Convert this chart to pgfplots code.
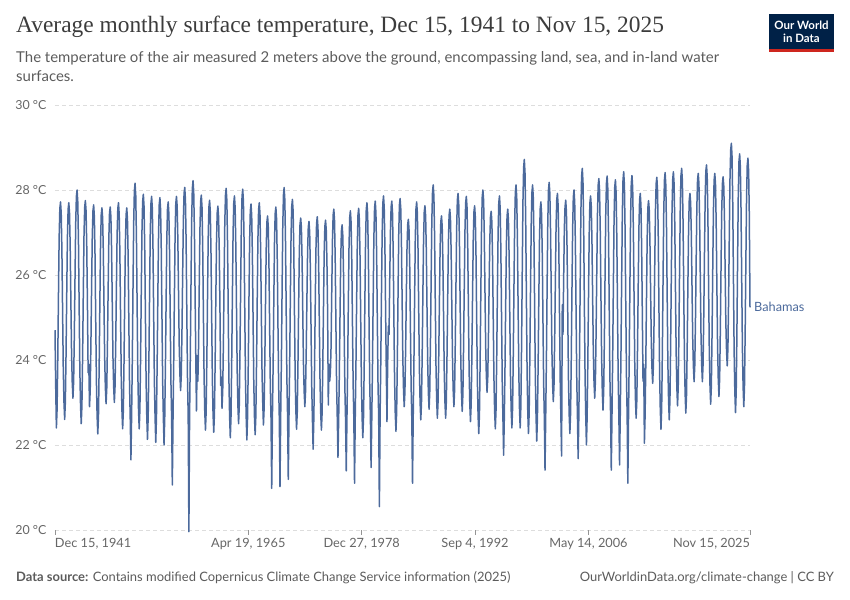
\documentclass[border=0pt]{standalone}
\usepackage{fontspec}
\setmainfont{Lato}
\newfontfamily\titlefont{Liberation Serif}
\usepackage{pgfplots}
\usepackage{pgfplotstable}
\pgfplotsset{compat=1.18}
\definecolor{owidline}{HTML}{4C6A9C}
\definecolor{txtgray}{HTML}{5B5B5B}
\definecolor{tickgray}{HTML}{666666}
\definecolor{gridgray}{HTML}{DDDDDD}
\definecolor{navy}{HTML}{002147}
\definecolor{owidred}{HTML}{CE261E}
\definecolor{titlegray}{HTML}{3C3C3C}

% monthly values, Dec 1941 .. Nov 2025, one line per year (Jan..Dec)
\pgfplotstableread[row sep=\\]{
T\\
24.70\\
23.40\\ 22.40\\ 22.83\\ 24.00\\ 25.49\\ 26.87\\ 27.56\\ 27.72\\ 27.46\\ 26.59\\ 25.16\\ 23.78\\
23.01\\ 22.60\\ 23.01\\ 24.13\\ 25.56\\ 26.88\\ 27.55\\ 27.70\\ 27.47\\ 26.69\\ 25.40\\ 24.16\\
23.47\\ 23.10\\ 23.49\\ 24.57\\ 25.94\\ 27.22\\ 27.85\\ 28.00\\ 27.72\\ 26.79\\ 25.25\\ 23.76\\
22.94\\ 22.50\\ 22.92\\ 24.08\\ 25.55\\ 26.91\\ 27.59\\ 27.75\\ 27.51\\ 26.68\\ 25.32\\ 23.70\\
23.90\\ 22.90\\ 23.28\\ 24.33\\ 25.66\\ 26.89\\ 27.51\\ 27.65\\ 27.38\\ 26.46\\ 24.95\\ 23.50\\
22.69\\ 22.26\\ 22.69\\ 23.86\\ 25.35\\ 26.73\\ 27.42\\ 27.58\\ 27.35\\ 26.57\\ 25.27\\ 24.03\\
23.34\\ 22.97\\ 23.34\\ 24.36\\ 25.66\\ 26.86\\ 27.46\\ 27.60\\ 27.37\\ 26.59\\ 25.30\\ 24.06\\
23.37\\ 23.00\\ 23.38\\ 24.41\\ 25.73\\ 26.95\\ 27.56\\ 27.70\\ 27.43\\ 26.53\\ 25.04\\ 23.60\\
22.81\\ 22.38\\ 22.80\\ 23.94\\ 25.40\\ 26.75\\ 27.42\\ 27.58\\ 27.31\\ 26.40\\ 24.89\\ 23.44\\
22.63\\ 21.65\\ 22.68\\ 23.99\\ 25.66\\ 27.21\\ 27.98\\ 28.16\\ 27.87\\ 26.89\\ 25.27\\ 23.71\\
22.84\\ 22.38\\ 22.82\\ 24.04\\ 25.58\\ 27.02\\ 27.73\\ 27.90\\ 27.62\\ 26.65\\ 25.05\\ 23.51\\
22.66\\ 22.13\\ 22.65\\ 23.90\\ 25.48\\ 26.95\\ 27.68\\ 27.85\\ 27.57\\ 26.61\\ 25.02\\ 23.50\\
22.65\\ 22.06\\ 22.65\\ 23.89\\ 25.46\\ 26.92\\ 27.65\\ 27.82\\ 27.54\\ 26.58\\ 25.01\\ 23.49\\
22.65\\ 22.00\\ 22.64\\ 23.86\\ 25.40\\ 26.84\\ 27.55\\ 27.72\\ 27.44\\ 26.51\\ 24.96\\ 23.47\\
22.64\\ 21.06\\ 22.65\\ 23.90\\ 25.48\\ 26.95\\ 27.68\\ 27.85\\ 27.62\\ 26.84\\ 25.56\\ 24.33\\
23.65\\ 23.28\\ 23.66\\ 24.71\\ 26.05\\ 27.30\\ 27.92\\ 28.06\\ 27.77\\ 26.77\\ 25.13\\ 23.55\\
22.67\\ 19.96\\ 22.68\\ 24.01\\ 25.69\\ 27.26\\ 28.04\\ 28.22\\ 27.95\\ 27.03\\ 25.51\\ 24.05\\
22.80\\ 24.10\\ 23.50\\ 24.32\\ 25.75\\ 27.07\\ 27.73\\ 27.88\\ 27.60\\ 26.66\\ 25.11\\ 23.62\\
22.79\\ 22.35\\ 22.78\\ 23.97\\ 25.49\\ 26.89\\ 27.60\\ 27.76\\ 27.49\\ 26.56\\ 25.03\\ 23.56\\
22.74\\ 22.30\\ 22.73\\ 23.90\\ 25.39\\ 26.77\\ 27.46\\ 27.62\\ 27.38\\ 26.57\\ 25.24\\ 23.40\\
23.60\\ 22.86\\ 23.27\\ 24.41\\ 25.86\\ 27.21\\ 27.88\\ 28.04\\ 27.75\\ 26.76\\ 25.12\\ 23.54\\
22.67\\ 22.17\\ 22.65\\ 23.90\\ 25.48\\ 26.95\\ 27.69\\ 27.86\\ 27.59\\ 26.68\\ 25.18\\ 23.73\\
22.93\\ 22.50\\ 22.94\\ 24.16\\ 25.70\\ 27.14\\ 27.85\\ 28.02\\ 27.73\\ 26.74\\ 25.11\\ 23.54\\
22.67\\ 22.12\\ 22.64\\ 23.84\\ 25.37\\ 26.79\\ 27.51\\ 27.67\\ 27.40\\ 26.48\\ 24.95\\ 23.49\\
22.67\\ 22.24\\ 22.68\\ 23.88\\ 25.41\\ 26.83\\ 27.54\\ 27.70\\ 27.44\\ 26.55\\ 25.08\\ 23.67\\
23.00\\ 22.47\\ 22.86\\ 23.95\\ 25.32\\ 26.60\\ 27.24\\ 27.39\\ 27.13\\ 26.25\\ 24.79\\ 23.39\\
22.62\\ 20.98\\ 22.63\\ 23.82\\ 25.33\\ 26.74\\ 27.44\\ 27.60\\ 27.33\\ 26.41\\ 24.90\\ 23.44\\
22.63\\ 21.02\\ 22.67\\ 23.96\\ 25.60\\ 27.12\\ 27.88\\ 28.06\\ 27.77\\ 26.77\\ 25.13\\ 23.55\\
22.67\\ 21.19\\ 22.65\\ 23.87\\ 25.44\\ 26.89\\ 27.61\\ 27.78\\ 27.51\\ 26.59\\ 25.07\\ 23.61\\
22.80\\ 22.37\\ 22.77\\ 23.86\\ 25.25\\ 26.54\\ 27.19\\ 27.34\\ 27.12\\ 26.36\\ 25.12\\ 23.92\\
23.26\\ 22.90\\ 23.25\\ 24.21\\ 25.43\\ 26.56\\ 27.13\\ 27.26\\ 27.01\\ 26.15\\ 24.73\\ 23.36\\
22.60\\ 21.90\\ 22.61\\ 23.75\\ 25.20\\ 26.54\\ 27.21\\ 27.37\\ 27.12\\ 26.27\\ 24.86\\ 23.50\\
22.75\\ 22.35\\ 22.75\\ 23.83\\ 25.22\\ 26.50\\ 27.14\\ 27.29\\ 27.07\\ 26.33\\ 25.11\\ 22.94\\
23.90\\ 23.50\\ 23.70\\ 24.32\\ 25.61\\ 26.81\\ 27.41\\ 27.55\\ 27.28\\ 26.37\\ 24.87\\ 23.43\\
22.63\\ 21.71\\ 22.60\\ 23.69\\ 25.09\\ 26.38\\ 27.03\\ 27.18\\ 26.93\\ 26.08\\ 24.69\\ 23.35\\
22.60\\ 21.39\\ 22.62\\ 23.79\\ 25.28\\ 26.66\\ 27.35\\ 27.51\\ 27.24\\ 26.34\\ 24.86\\ 23.42\\
22.62\\ 21.10\\ 22.63\\ 23.81\\ 25.31\\ 26.71\\ 27.41\\ 27.57\\ 27.30\\ 26.39\\ 24.89\\ 23.44\\
22.63\\ 22.17\\ 22.64\\ 23.85\\ 25.39\\ 26.82\\ 27.54\\ 27.70\\ 27.43\\ 26.49\\ 24.95\\ 23.47\\
22.64\\ 21.47\\ 22.64\\ 23.86\\ 25.41\\ 26.85\\ 27.57\\ 27.74\\ 27.46\\ 26.52\\ 24.97\\ 23.47\\
22.64\\ 20.55\\ 22.65\\ 23.90\\ 25.48\\ 26.95\\ 27.69\\ 27.86\\ 27.59\\ 26.69\\ 25.20\\ 23.77\\
22.55\\ 23.90\\ 24.80\\ 24.60\\ 25.90\\ 27.00\\ 27.60\\ 27.74\\ 27.47\\ 26.55\\ 25.03\\ 23.57\\
22.75\\ 22.32\\ 22.76\\ 23.96\\ 25.50\\ 26.92\\ 27.64\\ 27.80\\ 27.56\\ 26.72\\ 25.35\\ 24.03\\
23.29\\ 22.90\\ 23.25\\ 24.22\\ 25.46\\ 26.60\\ 27.18\\ 27.31\\ 27.05\\ 26.19\\ 24.75\\ 23.38\\
22.61\\ 21.10\\ 22.64\\ 23.86\\ 25.40\\ 26.84\\ 27.55\\ 27.72\\ 27.46\\ 26.59\\ 25.15\\ 23.77\\
23.00\\ 22.59\\ 22.99\\ 24.10\\ 25.51\\ 26.82\\ 27.48\\ 27.63\\ 27.39\\ 26.58\\ 25.23\\ 23.94\\
23.22\\ 22.84\\ 23.26\\ 24.42\\ 25.90\\ 27.28\\ 27.96\\ 28.12\\ 27.85\\ 26.91\\ 25.37\\ 23.89\\
23.07\\ 22.63\\ 23.01\\ 24.06\\ 25.39\\ 26.63\\ 27.25\\ 27.39\\ 27.15\\ 26.34\\ 25.01\\ 23.72\\
23.01\\ 22.63\\ 23.02\\ 24.11\\ 25.48\\ 26.76\\ 27.40\\ 27.55\\ 27.32\\ 26.53\\ 25.22\\ 23.97\\
23.27\\ 22.90\\ 23.30\\ 24.41\\ 25.81\\ 27.12\\ 27.77\\ 27.92\\ 27.66\\ 26.79\\ 25.35\\ 23.97\\
23.20\\ 22.79\\ 23.19\\ 24.31\\ 25.72\\ 27.04\\ 27.70\\ 27.85\\ 27.59\\ 26.68\\ 25.20\\ 23.77\\
22.97\\ 22.55\\ 22.96\\ 24.07\\ 25.50\\ 26.82\\ 27.48\\ 27.63\\ 27.36\\ 26.45\\ 24.95\\ 23.50\\
22.70\\ 22.27\\ 22.73\\ 23.99\\ 25.59\\ 27.08\\ 27.83\\ 28.00\\ 27.76\\ 26.95\\ 25.62\\ 24.33\\
23.62\\ 23.24\\ 23.58\\ 24.52\\ 25.71\\ 26.82\\ 27.37\\ 27.50\\ 27.24\\ 26.37\\ 24.94\\ 23.56\\
22.79\\ 22.38\\ 22.82\\ 24.02\\ 25.56\\ 26.98\\ 27.70\\ 27.86\\ 27.58\\ 26.61\\ 25.03\\ 23.50\\
22.65\\ 21.76\\ 22.63\\ 23.81\\ 25.30\\ 26.69\\ 27.39\\ 27.55\\ 27.29\\ 26.42\\ 24.97\\ 23.58\\
22.81\\ 22.40\\ 22.86\\ 24.12\\ 25.72\\ 27.20\\ 27.95\\ 28.12\\ 27.83\\ 26.86\\ 25.26\\ 23.72\\
22.86\\ 22.40\\ 22.91\\ 24.30\\ 26.07\\ 27.71\\ 28.53\\ 28.72\\ 28.40\\ 27.30\\ 25.49\\ 23.75\\
22.79\\ 22.27\\ 22.74\\ 24.03\\ 25.66\\ 27.18\\ 27.94\\ 28.12\\ 27.82\\ 26.82\\ 25.16\\ 23.56\\
22.67\\ 22.09\\ 22.64\\ 23.86\\ 25.40\\ 26.84\\ 27.55\\ 27.72\\ 27.44\\ 26.51\\ 24.96\\ 23.47\\
22.64\\ 21.41\\ 22.68\\ 23.99\\ 25.67\\ 27.22\\ 28.00\\ 28.18\\ 27.92\\ 27.04\\ 25.60\\ 24.21\\
23.43\\ 23.02\\ 23.41\\ 24.49\\ 25.86\\ 27.14\\ 27.77\\ 27.92\\ 27.63\\ 26.66\\ 25.06\\ 23.52\\
22.66\\ 21.74\\ 25.30\\ 24.60\\ 25.90\\ 27.10\\ 27.60\\ 27.76\\ 27.49\\ 26.55\\ 25.01\\ 23.53\\
22.71\\ 22.27\\ 22.73\\ 23.99\\ 25.59\\ 27.08\\ 27.83\\ 28.00\\ 27.71\\ 26.72\\ 25.10\\ 23.53\\
22.66\\ 21.68\\ 22.70\\ 24.09\\ 25.86\\ 27.50\\ 28.32\\ 28.51\\ 28.19\\ 27.12\\ 25.35\\ 23.65\\
22.70\\ 22.00\\ 22.65\\ 23.90\\ 25.48\\ 26.95\\ 27.69\\ 27.86\\ 27.62\\ 26.81\\ 25.48\\ 24.19\\
23.48\\ 23.10\\ 23.51\\ 24.65\\ 26.10\\ 27.44\\ 28.11\\ 28.27\\ 28.00\\ 27.07\\ 25.54\\ 24.07\\
23.26\\ 22.82\\ 23.26\\ 24.47\\ 26.02\\ 27.45\\ 28.16\\ 28.33\\ 28.02\\ 26.98\\ 25.26\\ 23.61\\
22.69\\ 21.41\\ 22.68\\ 24.01\\ 25.70\\ 27.27\\ 28.06\\ 28.24\\ 27.94\\ 26.91\\ 25.22\\ 23.59\\
22.68\\ 21.53\\ 22.70\\ 24.07\\ 25.81\\ 27.43\\ 28.24\\ 28.43\\ 28.12\\ 27.06\\ 25.32\\ 23.63\\
22.70\\ 21.10\\ 22.69\\ 24.04\\ 25.76\\ 27.36\\ 28.16\\ 28.34\\ 28.05\\ 27.08\\ 25.48\\ 23.94\\
23.09\\ 22.63\\ 23.05\\ 24.22\\ 25.70\\ 27.07\\ 27.76\\ 27.92\\ 27.63\\ 26.66\\ 25.06\\ 23.50\\
23.90\\ 22.04\\ 22.70\\ 23.87\\ 25.42\\ 26.86\\ 27.58\\ 27.75\\ 27.54\\ 26.80\\ 25.60\\ 24.44\\
23.79\\ 23.45\\ 23.84\\ 24.90\\ 26.26\\ 27.52\\ 28.15\\ 28.30\\ 28.00\\ 27.00\\ 25.33\\ 23.73\\
22.84\\ 22.37\\ 22.85\\ 24.18\\ 25.87\\ 27.44\\ 28.23\\ 28.41\\ 28.12\\ 27.13\\ 25.50\\ 23.93\\
23.06\\ 22.59\\ 23.06\\ 24.34\\ 25.98\\ 27.50\\ 28.25\\ 28.43\\ 28.15\\ 27.22\\ 25.67\\ 24.19\\
23.36\\ 22.92\\ 23.37\\ 24.60\\ 26.16\\ 27.62\\ 28.34\\ 28.51\\ 28.22\\ 27.24\\ 25.63\\ 24.07\\
23.21\\ 22.75\\ 23.16\\ 24.30\\ 25.75\\ 27.09\\ 27.77\\ 27.92\\ 27.70\\ 26.95\\ 25.70\\ 24.51\\
23.84\\ 23.49\\ 23.88\\ 24.96\\ 26.33\\ 27.61\\ 28.24\\ 28.39\\ 28.15\\ 27.31\\ 25.94\\ 24.62\\
23.88\\ 23.49\\ 23.90\\ 25.02\\ 26.45\\ 27.77\\ 28.44\\ 28.59\\ 28.31\\ 27.35\\ 25.77\\ 24.25\\
23.41\\ 22.96\\ 23.39\\ 24.59\\ 26.11\\ 27.52\\ 28.23\\ 28.39\\ 28.13\\ 27.23\\ 25.76\\ 24.35\\
23.56\\ 23.14\\ 23.55\\ 24.69\\ 26.14\\ 27.48\\ 28.15\\ 28.31\\ 28.09\\ 27.33\\ 26.08\\ 24.88\\
24.22\\ 23.86\\ 24.28\\ 25.43\\ 26.90\\ 28.26\\ 28.94\\ 29.10\\ 28.78\\ 27.71\\ 25.93\\ 24.22\\
23.27\\ 22.76\\ 23.25\\ 24.59\\ 26.29\\ 27.88\\ 28.67\\ 28.85\\ 28.55\\ 27.54\\ 25.87\\ 24.27\\
23.38\\ 22.90\\ 23.37\\ 24.66\\ 26.29\\ 27.81\\ 28.58\\ 28.75\\ 28.45\\ 27.40\\ 25.24\\
}\bahamas

\begin{document}
\begin{tikzpicture}
\path[use as bounding box] (0,0) rectangle (850bp,600bp);

\begin{axis}[%
  at={(55bp,70bp)}, anchor=south west,
  scale only axis,
  width=695bp, height=425bp,
  xmin=0, xmax=1007,
  ymin=20, ymax=30,
  clip=false,
  axis line style={draw=none},
  /pgf/number format/assume math mode=true,
  ytick={20,22,...,30},
  yticklabel={\pgfmathprintnumber{\tick} °C},
  ytick style={draw=none},
  yticklabel style={font=\fontsize{12.5}{14}\selectfont, text=tickgray},
  ymajorgrids,
  grid style={gridgray, dash pattern=on 3.5bp off 3.5bp, line width=0.8bp},
  xtick={0,280.1,444.4,608.6,773,1007},
  xticklabels={\rlap{Dec 15, 1941},{Apr 19, 1965},{Dec 27, 1978},{Sep 4, 1992},{May 14, 2006},\llap{Nov 15, 2025}},
  xtick pos=bottom,
  tick align=outside,
  major tick length=5bp,
  xtick style={draw=tickgray!70, line width=0.7bp},
  xticklabel style={font=\fontsize{12.8}{14}\selectfont, text=tickgray},
]
\addplot[owidline, line width=1.5bp, line join=round] table[x expr=\coordindex, y=T] {\bahamas};
\node[anchor=west, inner sep=0pt, xshift=4bp, text=owidline, font=\fontsize{12.8}{14}\selectfont] at (axis cs:1007,25.24) {Bahamas};
\end{axis}

% title block
\node[anchor=base west, inner sep=0pt, text=titlegray, font=\titlefont\fontsize{23.5}{27}\selectfont] at (16bp,567bp) {Average monthly surface temperature, Dec 15, 1941 to Nov 15, 2025};
\node[anchor=base west, inner sep=0pt, text=txtgray, font=\fontsize{15}{18}\selectfont] at (16bp,537bp) {The temperature of the air measured 2 meters above the ground, encompassing land, sea, and in-land water};
\node[anchor=base west, inner sep=0pt, text=txtgray, font=\fontsize{15}{18}\selectfont] at (16bp,518bp) {surfaces.};

% logo
\fill[navy] (769bp,548bp) rectangle (834bp,586bp);
\fill[owidred] (769bp,548bp) rectangle (834bp,551bp);
\node[align=center, inner sep=0pt, text=white, font=\bfseries\fontsize{11.5}{13}\selectfont] at (801.5bp,568.5bp) {Our World\\in Data};

% footer
\node[anchor=base west, inner sep=0pt, text=txtgray, font=\fontsize{13}{15}\selectfont] at (16bp,19bp) {\textbf{Data source:} Contains modified Copernicus Climate Change Service information (2025)};
\node[anchor=base east, inner sep=0pt, text=txtgray, font=\fontsize{13}{15}\selectfont] at (834bp,19bp) {OurWorldinData.org/climate-change | CC BY};
\end{tikzpicture}
\end{document}
